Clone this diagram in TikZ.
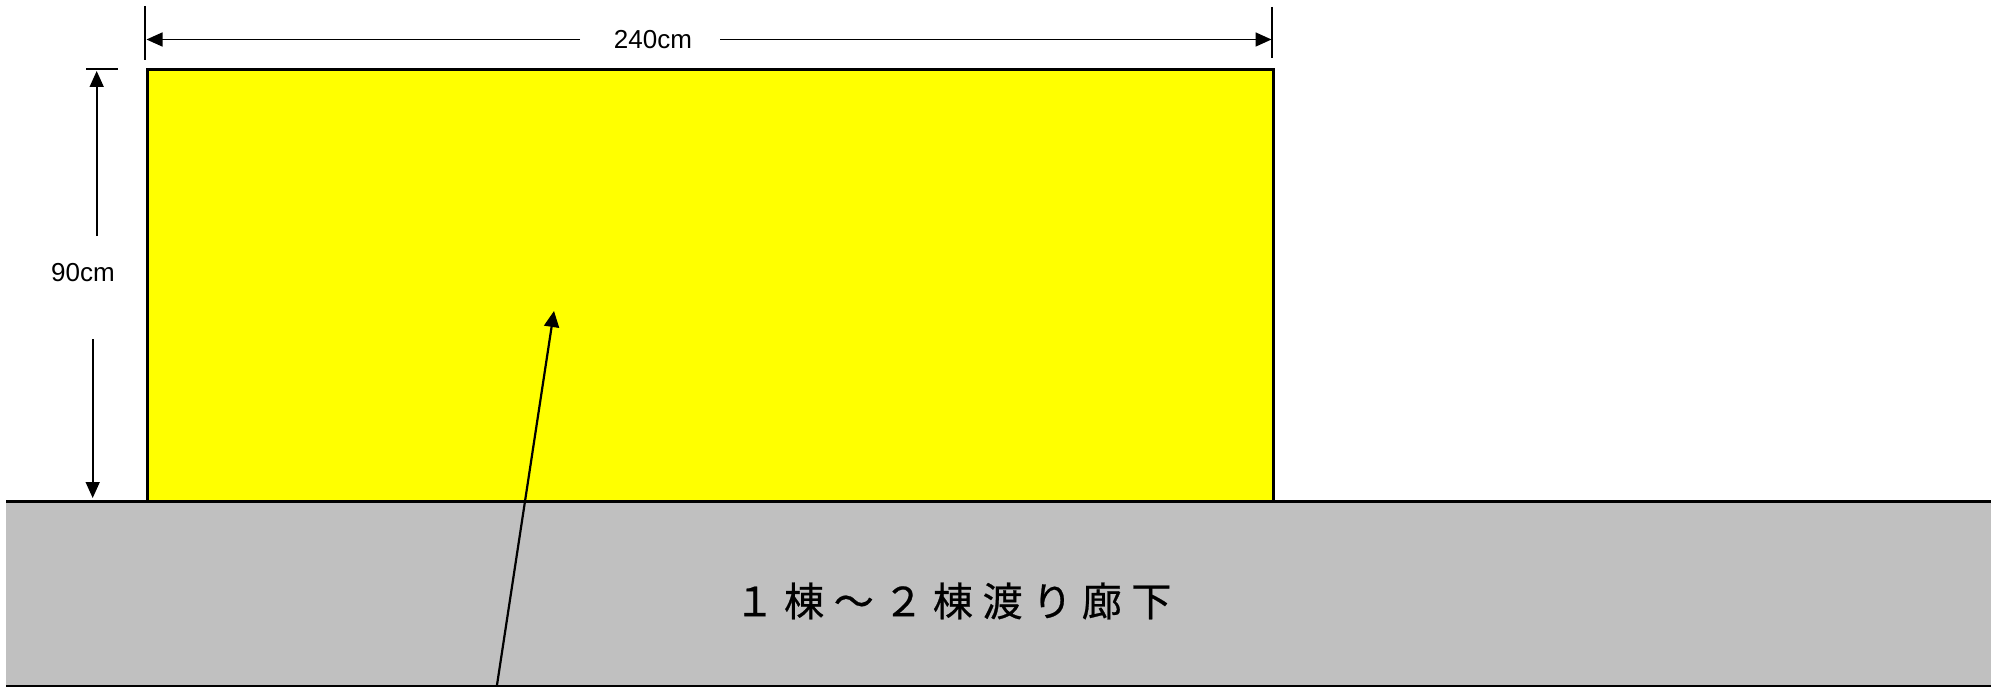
\documentclass[tikz,border=0pt]{standalone}
\usepackage{fontspec}
\setmainfont{Liberation Sans}
\newfontfamily\cjkfont[LetterSpace=24,FakeBold=0.6]{Noto Sans CJK JP}
\usetikzlibrary{arrows.meta}
\definecolor{corridor}{HTML}{C0C0C0}
\definecolor{board}{HTML}{FFFF00}
\tikzset{
  dimline/.style={line width=1.6pt,-{Triangle[length=16pt,width=14pt]}},
  extline/.style={line width=1.7pt},
  dimlabel/.style={font=\fontsize{26}{30}\selectfont,inner sep=0pt},
}
\begin{document}
\begin{tikzpicture}[x=1pt,y=-1pt]
\useasboundingbox (0,0) rectangle (1999,687);
% corridor
\fill[corridor] (6,501.7) rectangle (1991,685.7);
\draw[line width=3pt] (6,501.7) -- (1991,501.7);
\draw[line width=2pt] (6,685.7) -- (1991,685.7);
\node[font=\cjkfont\fontsize{40}{44}\selectfont,inner sep=0pt] (cap) at (953,601) {１棟～２棟渡り廊下};
% yellow board
\draw[fill=board,line width=3pt] (147,70) rectangle (1273,501.7);
% width dimension
\coordinate (eLt) at (145,6); \coordinate (eLb) at (145,60);
\coordinate (eRt) at (1272,7); \coordinate (eRb) at (1272,58);
\draw[extline] (eLt) -- (eLb);
\draw[extline] (eRt) -- (eRb);
\node[dimlabel] (w) at (653,39.5) {240cm};
\coordinate (wl0) at (580,39.5); \coordinate (wl1) at (146.5,39.5);
\coordinate (wr0) at (720,39.5); \coordinate (wr1) at (1271.5,39.5);
\draw[dimline] (wl0) -- (wl1);
\draw[dimline] (wr0) -- (wr1);
% height dimension
\coordinate (tA) at (86,69); \coordinate (tB) at (118,69);
\draw[extline] (tA) -- (tB);
\node[dimlabel] (h) at (83,273) {90cm};
\coordinate (hu0) at (96.7,236); \coordinate (hu1) at (96.7,71);
\coordinate (hd0) at (92.7,339); \coordinate (hd1) at (92.7,498);
\draw[dimline] (hu0) -- (hu1);
\draw[dimline] (hd0) -- (hd1);
% pointer arrow
\coordinate (p0) at (497,685); \coordinate (p1) at (554,311);
\draw[line width=2.2pt,-{Triangle[length=16pt,width=15pt]}] (p0) -- (p1);
\end{tikzpicture}
\end{document}
